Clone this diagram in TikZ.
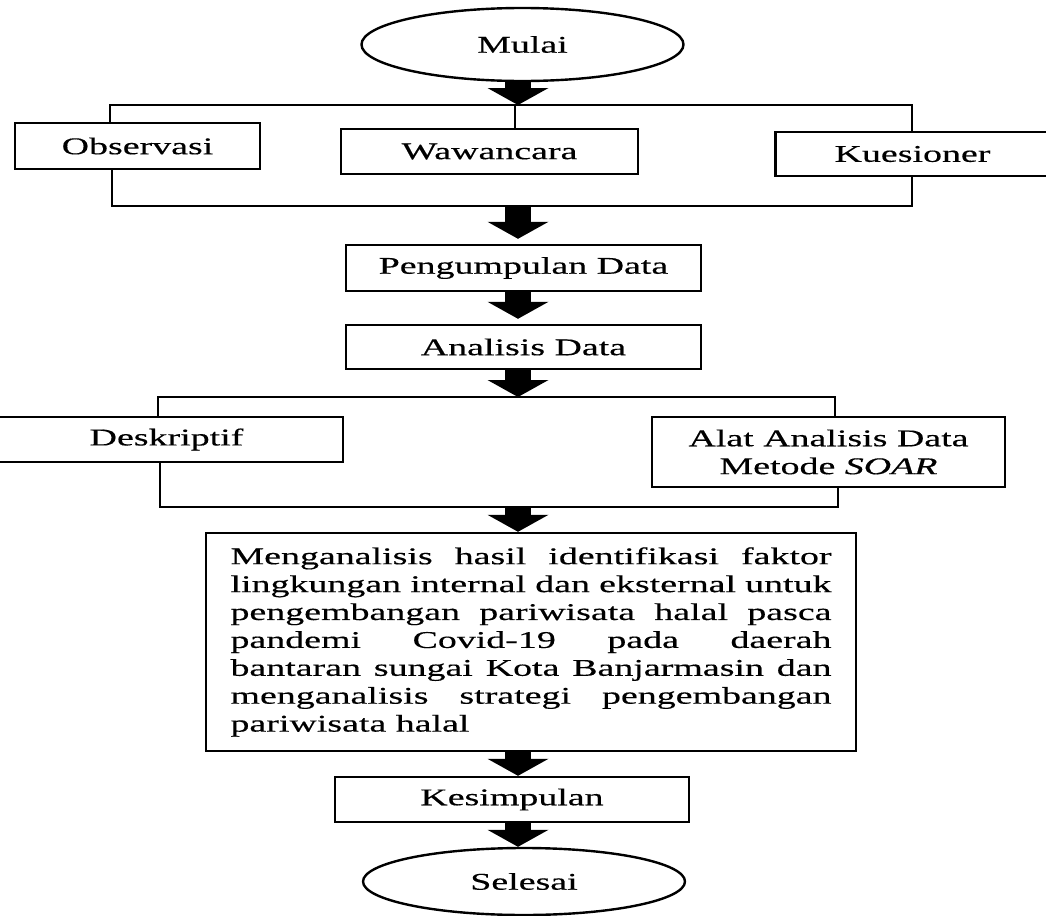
\documentclass[tikz,border=0pt]{standalone}
\usepackage{fontspec}
\setmainfont{Liberation Serif}[FakeStretch=1.58,FakeBold=0.4]
\usetikzlibrary{arrows.meta,shapes.geometric}

\begin{document}
\begin{tikzpicture}[x=0.5pt,y=-0.5pt,line width=1.2pt,
  every node/.style={font=\fontsize{12}{13.95}\selectfont,inner sep=0pt},
  box/.style={draw,rectangle,minimum width=177.5pt,minimum height=23pt},
  oval/.style={draw,ellipse,minimum width=161pt,minimum height=35pt},
  panah/.style={line width=13pt,-{Triangle[width=30.5pt,length=8.5pt,line width=0pt]}}]
  \useasboundingbox (0,0) rectangle (1046,916);

  \node[oval,minimum height=36.5pt] (mulai) at (522.5,44.5) {Mulai};
  \node[box,minimum width=122.5pt] (observasi) at (137.5,146) {Observasi};
  \node[box,minimum width=148.5pt,minimum height=22.5pt] (wawancara) at (489.5,151.5) {Wawancara};
  \node[box,minimum width=137pt,minimum height=22pt] (kuesioner) at (912.5,154) {Kuesioner};
  \node[box] (pengumpulan) at (523.5,268) {Pengumpulan Data};
  \node[box,minimum height=22pt] (analisis) at (523.5,347) {Analisis Data};
  \node[box,minimum width=176.5pt,minimum height=22.5pt] (deskriptif) at (166.5,439.5) {Deskriptif};
  \node[box,minimum width=176.5pt,minimum height=35pt,align=center] (alat) at (828.5,452) {Alat Analisis Data\\Metode \textit{SOAR}};
  \node[box,minimum width=325pt,minimum height=109pt,text width=300.5pt,align=justify] (hasil) at (531,642)
    {\tolerance=10000 \hbadness=10000 \hyphenpenalty=10000
     Menganalisis hasil identifikasi faktor\linebreak
     lingkungan internal dan eksternal untuk\linebreak
     pengembangan pariwisata halal pasca\linebreak
     pandemi Covid-19 pada daerah\linebreak
     bantaran sungai Kota Banjarmasin dan\linebreak
     menganalisis strategi pengembangan\linebreak
     pariwisata halal};
  \node[box,minimum width=177pt,minimum height=22.5pt] (kesimpulan) at (512,799.5) {Kesimpulan};
  \node[oval,minimum height=33.5pt] (selesai) at (524,881.5) {Selesai};

  \coordinate (ax) at (518,0);
  \coordinate (a1) at (110,105); \coordinate (a2) at (515,105); \coordinate (a3) at (912,105);
  \coordinate (b1) at (112,206); \coordinate (b3) at (912,206);
  \coordinate (c1) at (158,397); \coordinate (c3) at (835,397);
  \coordinate (d1) at (160,507); \coordinate (d3) at (838,507);

  \draw (observasi.north -| a1) -- (a1) -- (a3) -- (kuesioner.north -| a3);
  \draw (a2) -- (wawancara.north -| a2);
  \draw (observasi.south -| b1) -- (b1) -- (b3) -- (kuesioner.south -| b3);
  \draw (deskriptif.north -| c1) -- (c1) -- (c3) -- (alat.north -| c3);
  \draw (deskriptif.south -| d1) -- (d1) -- (d3) -- (alat.south -| d3);

  \draw[panah] (mulai.south -| ax) -- (a2 -| ax);
  \draw[panah,shorten >=2.5pt] (b1 -| ax) -- (pengumpulan.north -| ax);
  \draw[panah,shorten >=2.5pt] (pengumpulan.south -| ax) -- (analisis.north -| ax);
  \draw[panah] (analisis.south -| ax) -- (c1 -| ax);
  \draw[panah] (d1 -| ax) -- (hasil.north -| ax);
  \draw[panah] (hasil.south -| ax) -- (kesimpulan.north -| ax);
  \draw[panah] (kesimpulan.south -| ax) -- (selesai.north -| ax);
\end{tikzpicture}
\end{document}
